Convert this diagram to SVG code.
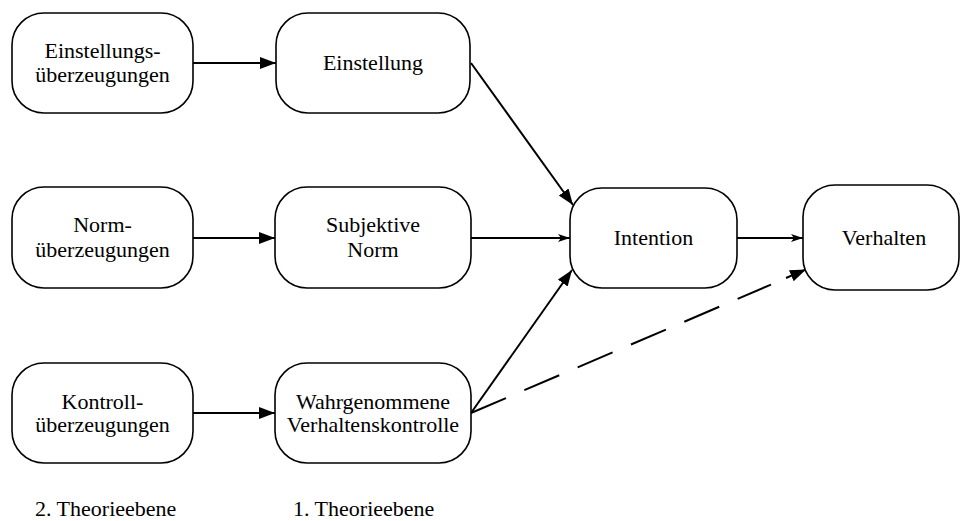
<svg xmlns="http://www.w3.org/2000/svg" width="961" height="521" viewBox="0 0 961 521">
<defs>
<style>
.box{fill:#fff;stroke:#000;stroke-width:1.6}
.t{font-family:'Liberation Serif','Times New Roman',serif;font-size:22px;fill:#000;text-anchor:middle}
.lbl{font-family:'Liberation Serif','Times New Roman',serif;font-size:22px;fill:#000}
.c{stroke:#000;stroke-width:2;fill:none}
</style>
<marker id="ah" markerUnits="userSpaceOnUse" markerWidth="18" markerHeight="14" refX="16" refY="6" orient="auto">
<path d="M0,0 L16,6 L0,12 z" fill="#000"/>
</marker>
<marker id="as" markerUnits="userSpaceOnUse" markerWidth="14" markerHeight="10" refX="12" refY="4" orient="auto">
<path d="M0,0 L12,4 L0,8 L3,4 z" fill="#000"/>
</marker>
</defs>
<g id="connectors">
<line class="c" x1="193" y1="63" x2="276" y2="63" marker-end="url(#ah)"/>
<line class="c" x1="193" y1="238" x2="275" y2="238" marker-end="url(#ah)"/>
<line class="c" x1="193" y1="413" x2="275" y2="413" marker-end="url(#ah)"/>
<line class="c" x1="471" y1="63" x2="573" y2="205" marker-end="url(#ah)"/>
<line class="c" x1="471" y1="238" x2="570" y2="238" marker-end="url(#as)"/>
<line class="c" x1="471" y1="413" x2="572" y2="270" marker-end="url(#ah)"/>
<line class="c" x1="737" y1="238" x2="803" y2="238" marker-end="url(#as)"/>
<line class="c" x1="471" y1="413" x2="771" y2="284.6" stroke-dasharray="38 20"/>
<line class="c" x1="786" y1="278" x2="806" y2="269.4" marker-end="url(#ah)"/>
</g>
<g id="einstellungsueberzeugungen">
<rect class="box" x="12" y="13" width="181" height="100" rx="32"/>
<text class="t" x="102.5" y="58">Einstellungs-</text>
<text class="t" x="102.5" y="82">überzeugungen</text>
</g>
<g id="einstellung">
<rect class="box" x="276" y="13" width="194" height="100" rx="32"/>
<text class="t" x="373" y="70">Einstellung</text>
</g>
<g id="normueberzeugungen">
<rect class="box" x="12" y="187" width="181" height="101" rx="32"/>
<text class="t" x="102.5" y="232">Norm-</text>
<text class="t" x="102.5" y="257">überzeugungen</text>
</g>
<g id="subjektive-norm">
<rect class="box" x="275" y="187" width="196" height="101" rx="32"/>
<text class="t" x="373" y="232">Subjektive</text>
<text class="t" x="373" y="257">Norm</text>
</g>
<g id="kontrollueberzeugungen">
<rect class="box" x="12" y="363" width="181" height="100" rx="32"/>
<text class="t" x="102.5" y="409">Kontroll-</text>
<text class="t" x="102.5" y="432">überzeugungen</text>
</g>
<g id="wahrgenommene-verhaltenskontrolle">
<rect class="box" x="275" y="363" width="196" height="100" rx="32"/>
<text class="t" x="373" y="409">Wahrgenommene</text>
<text class="t" x="373" y="432">Verhaltenskontrolle</text>
</g>
<g id="intention">
<rect class="box" x="570" y="188" width="167" height="100" rx="32"/>
<text class="t" x="653.5" y="245">Intention</text>
</g>
<g id="verhalten">
<rect class="box" x="803" y="185" width="156" height="105" rx="32"/>
<text class="t" x="884" y="245">Verhalten</text>
</g>
<g id="labels">
<text class="lbl" x="35" y="516">2. Theorieebene</text>
<text class="lbl" x="293" y="516">1. Theorieebene</text>
</g>
</svg>
